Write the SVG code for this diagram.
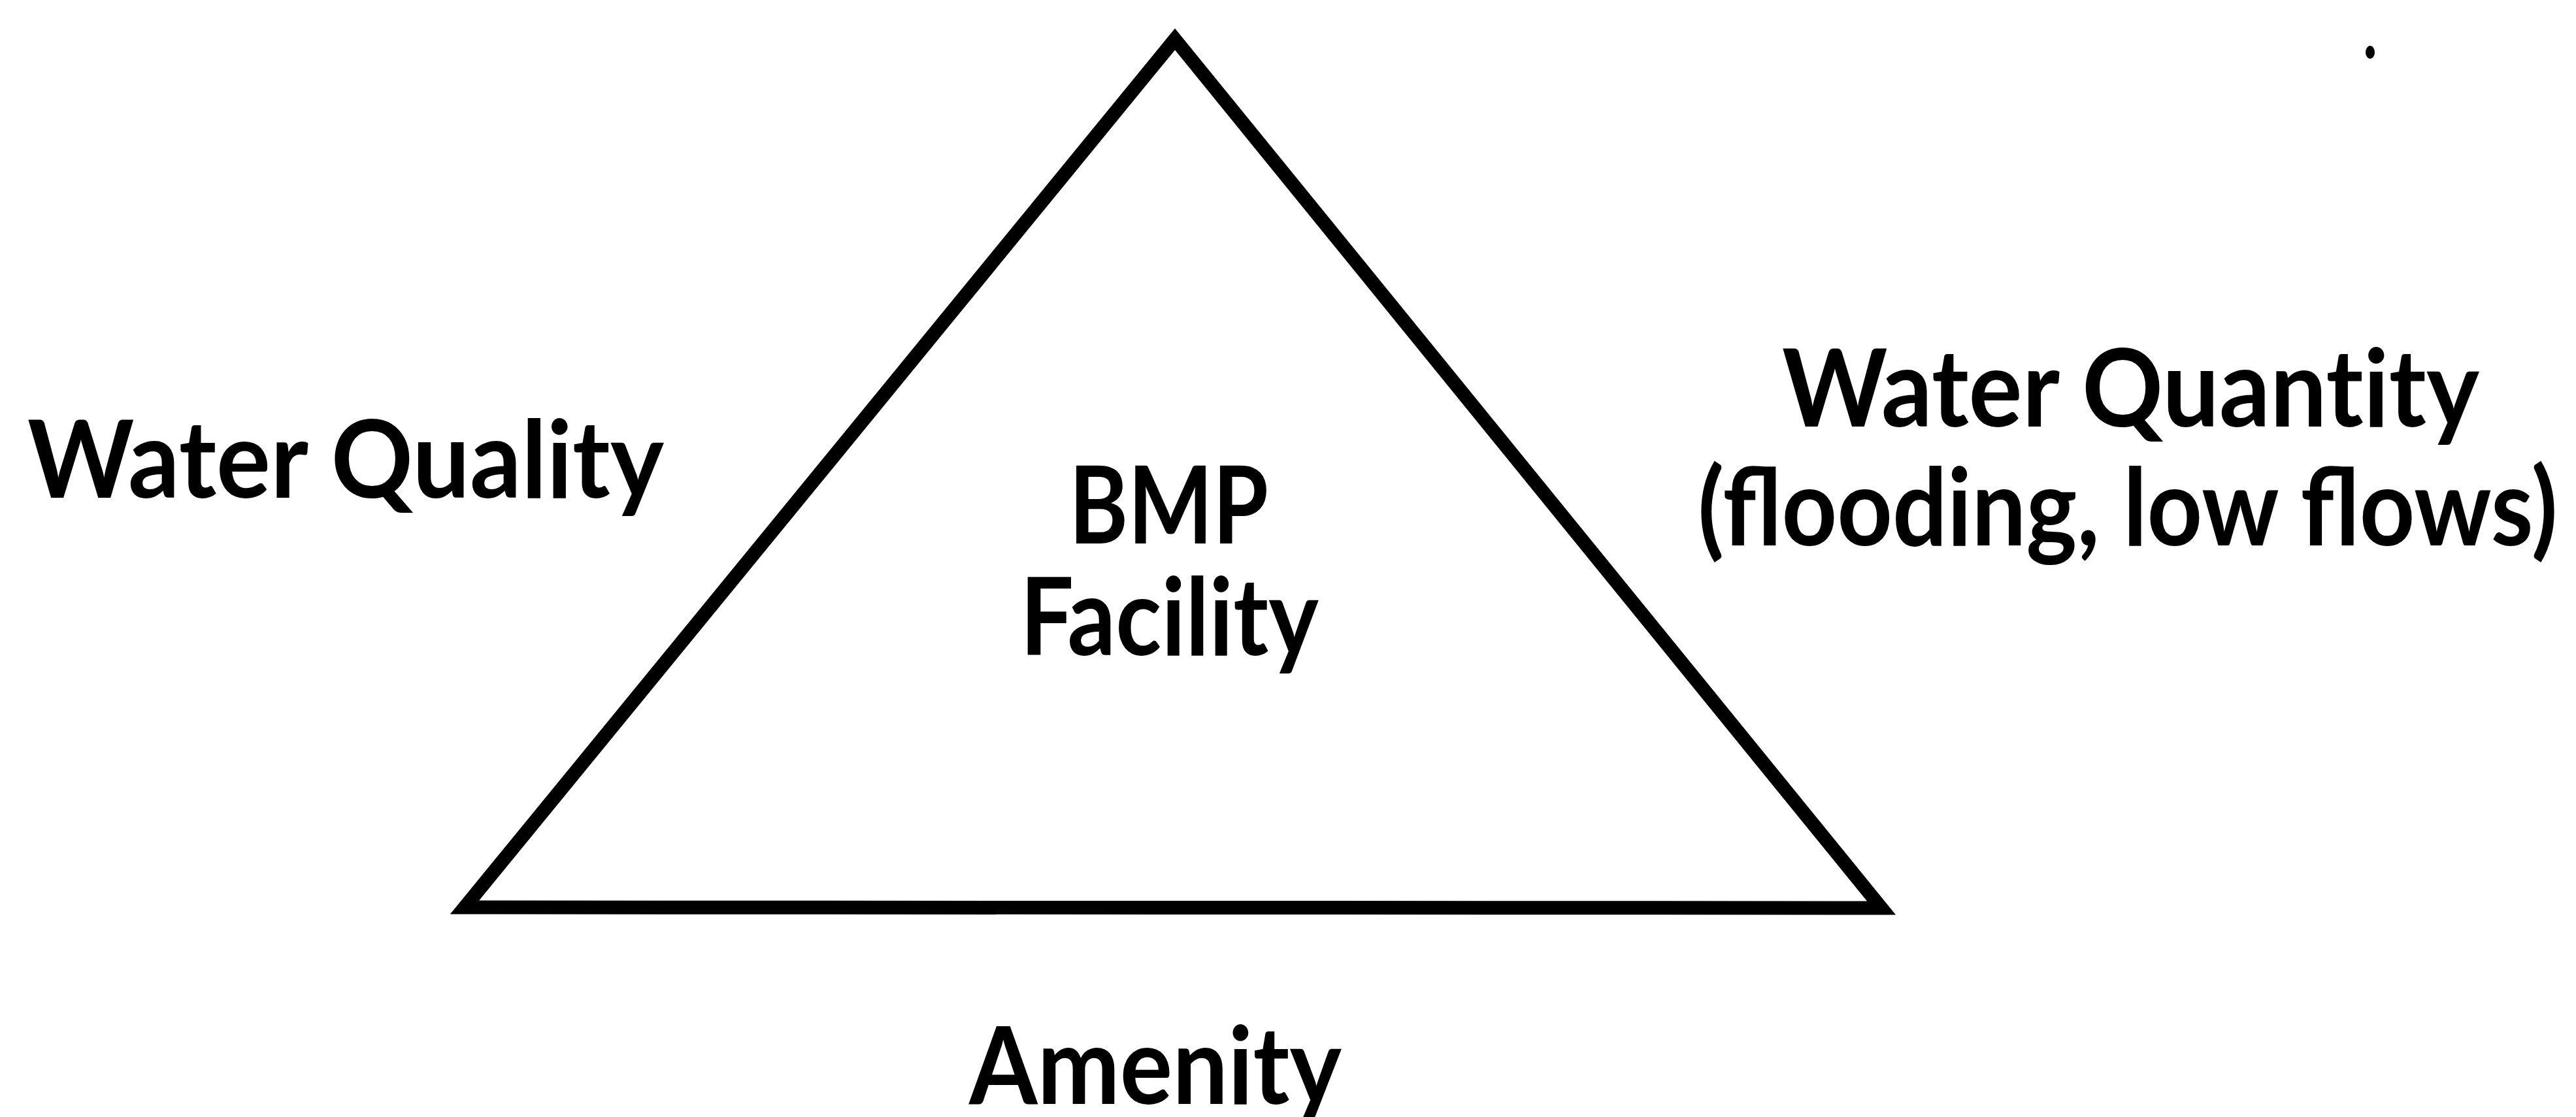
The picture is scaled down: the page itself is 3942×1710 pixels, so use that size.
<svg xmlns="http://www.w3.org/2000/svg" width="3942" height="1710" viewBox="0 0 3942 1710">
  <style>
    .lbl { font-family: Lato, "Liberation Sans", sans-serif; font-weight: 700; font-size: 165px; fill: #000; }
    .nolig { font-variant-ligatures: none; }
    .tri { fill: none; stroke: #000; stroke-width: 21; stroke-linejoin: miter; stroke-miterlimit: 10; }
  </style>
  <rect width="3942" height="1710" fill="#fff"/>
  <g id="bmp-facility">
    <polygon class="tri" points="1798,60 2879,1390 711,1389"/>
    <text class="lbl" x="1636" y="832" textLength="305" lengthAdjust="spacingAndGlyphs">BMP</text>
    <text class="lbl" x="1561" y="1003" textLength="457" lengthAdjust="spacingAndGlyphs">Facility</text>
  </g>
  <g id="water-quality">
    <text class="lbl" x="42" y="762" textLength="974" lengthAdjust="spacingAndGlyphs">Water Quality</text>
  </g>
  <g id="water-quantity">
    <text class="lbl nolig" x="2727" y="653" textLength="1067" lengthAdjust="spacingAndGlyphs">Water Quantity</text>
    <text class="lbl" x="2598" y="835" textLength="1316" lengthAdjust="spacingAndGlyphs">(flooding, low flows)</text>
  </g>
  <g id="amenity">
    <text class="lbl" x="1483" y="1690" textLength="570" lengthAdjust="spacingAndGlyphs">Amenity</text>
  </g>
  <g id="connectors"/>
  <ellipse cx="3627" cy="80" rx="7" ry="10" fill="#000"/>
</svg>
